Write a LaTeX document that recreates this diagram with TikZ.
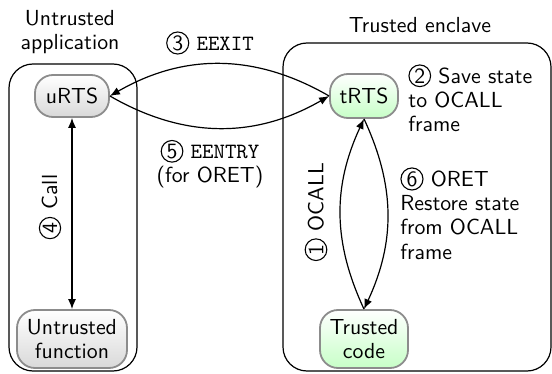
\documentclass[tikz,border=0pt]{standalone}
\usepackage{fontspec}
\usetikzlibrary{arrows.meta}
\renewcommand{\familydefault}{\sfdefault}
\newcommand{\circnum}[1]{\tikz[baseline=(cn.base)]\node[draw,circle,inner sep=0.6pt,line width=0.55pt](cn){#1};}
\tikzset{
  container/.style={draw=black,line width=0.6pt,rounded corners=12pt},
  grpnode/.style={draw=gray!90,line width=0.9pt,rounded corners=9pt,top color=white,bottom color=gray!30,align=center,inner sep=1pt},
  grnnode/.style={draw=gray!90,line width=0.9pt,rounded corners=9pt,top color=white,bottom color=green!22,align=center,inner sep=1pt},
  conn/.style={line width=0.6pt,-{Latex[length=5pt,width=4pt]}},
  lbl/.style={inner sep=0pt,align=left},
}
\begin{document}
\begin{tikzpicture}[x=0.5pt,y=-0.5pt,font=\fontsize{10.9}{12.2}\selectfont]
\useasboundingbox (0,0) rectangle (552,374);
\draw[container] (9,64) rectangle (137,371);
\draw[container] (283,43) rectangle (551,371);
\node[align=center,inner sep=0pt] (uapp) at (70,32) {Untrusted\\application};
\node[inner sep=0pt] (tenc) at (420,25) {Trusted enclave};
\node[grpnode,minimum width=37pt,minimum height=21pt] (urts) at (72,96) {uRTS};
\node[grnnode,minimum width=34pt,minimum height=22pt] (trts) at (364,96) {tRTS};
\node[grpnode,minimum width=55pt,minimum height=29pt] (ufun) at (72,339) {Untrusted\\function};
\node[grnnode,minimum width=44pt,minimum height=29pt] (tcode) at (364,339) {Trusted\\code};
\draw[conn] (trts.west) to[bend right=30] (urts.east);
\draw[conn] (urts.east) to[bend right=30] (trts.west);
\draw[conn,{Latex[length=5pt,width=4pt]}-{Latex[length=5pt,width=4pt]}] (urts.south) -- (ufun.north);
\draw[conn] (tcode.north) to[bend left=25] (trts.south);
\draw[conn] (trts.south) to[bend left=25] (tcode.north);
\node[lbl] (l3) at (210,43) {\circnum{3} \texttt{EEXIT}};
\node[lbl,align=center] (l5) at (210,164) {\circnum{5} \texttt{EENTRY}\\(for ORET)};
\node[lbl,rotate=90] (l4) at (50,207) {\circnum{4} Call};
\node[lbl,rotate=90] (l1) at (316,212) {\circnum{1} OCALL};
\node[lbl,anchor=north west] (l2) at (408,64) {\circnum{2} Save state\\to OCALL\\frame};
\node[lbl,anchor=north west] (l6) at (400,167) {\circnum{6} ORET\\Restore state\\from OCALL\\frame};
\end{tikzpicture}
\end{document}
